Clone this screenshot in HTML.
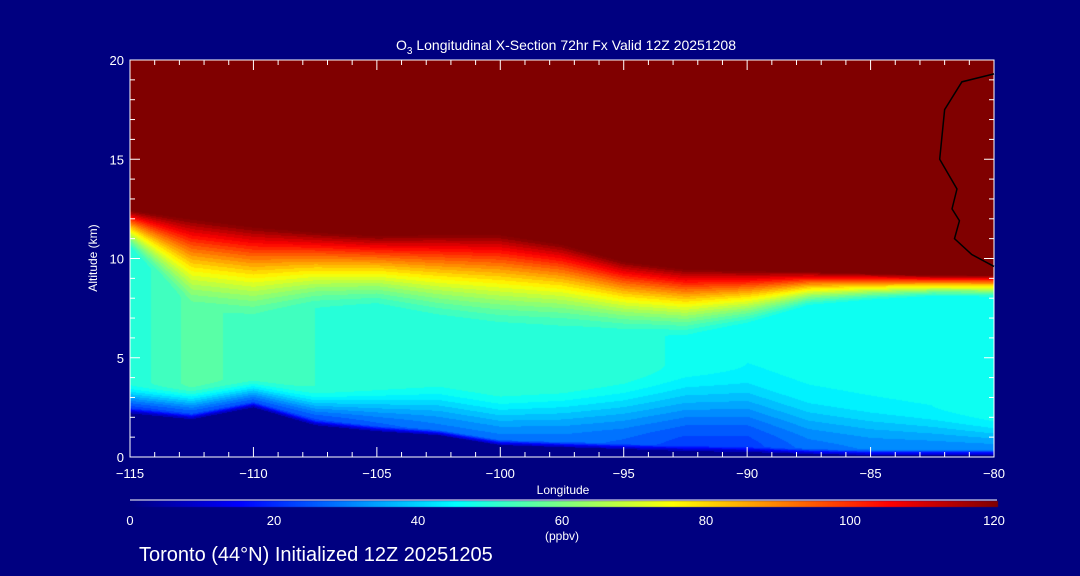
<!DOCTYPE html>
<html><head><meta charset="utf-8"><style>
body{margin:0;background:#000080;width:1080px;height:576px;overflow:hidden;font-family:"Liberation Sans",sans-serif;color:#fff}
#wrap{position:relative;width:1080px;height:576px}
canvas,svg{position:absolute;left:0;top:0}
</style></head><body>
<div id="wrap">
<canvas id="field" width="1080" height="576"></canvas>
<svg id="ov" width="1080" height="576"></svg>
</div>
<script>
// Column data along longitude
const lons      = [-115,-112.5,-110,-107.5,-105,-102.5,-100,-97.5,-95,-92.5,-90,-87.5,-85,-82.5,-80];
const ground    = [2.2, 1.9, 2.5, 1.6, 1.3, 1.1, 0.6, 0.5, 0.4, 0.3, 0.25,0.15,0.1, 0.1, 0.1];
const blDepth   = [1.6, 1.8, 1.6, 2.0, 2.5, 3.0, 3.0, 3.5, 4.0, 4.5, 4.5, 3.5, 3.0, 2.5, 2.0];
const lowVal    = [20,  22,  22,  22,  25,  28,  28,  28,  26,  22,  22,  28,  30,  30,  30];
const midVal    = [49,  55,  53,  51,  50,  50,  50,  51,  50,  47,  45,  45,  45,  45,  46];
const transBase = [10.5,7.5, 7.0, 7.5, 7.6, 7.0, 6.6, 6.6, 6.3, 6.0, 6.5, 7.5, 7.8, 8.0, 8.0];
const tropo     = [12.5,12.2,11.8,11.5,11.3,11.4,11.4,10.9,10.0,9.6, 9.5, 9.4, 9.3, 9.2, 9.2];
// solid 0-contour, upper right
const c0lon = [-80,-81.3,-82,-82.2,-81.5,-81.7,-81.4,-81.6,-80.9,-80];
const c0alt = [19.3,18.9,17.5,15.0,13.5,12.5,11.9,11.0,10.2,9.6];
const xTicks = [-115,-110,-105,-100,-95,-90,-85,-80];
const yTicks = [0,5,10,15,20];
const cbTicks = [0,20,40,60,80,100,120];

const X0=130,X1=994,Y0=457,Y1=60;
const sx=l=>X0+(l+115)/35*(X1-X0);
const sy=a=>Y0-(a/20)*(Y0-Y1);
const lonAt=px=>-115+(px-X0)/(X1-X0)*35;
const altAt=py=>(Y0-py)/(Y0-Y1)*20;
function interp(arr,lon){let f=(lon+115)/2.5;let i=Math.max(0,Math.min(lons.length-2,Math.floor(f)));let t=f-i;return arr[i]*(1-t)+arr[i+1]*t;}
function ss(a,b,z){let t=(z-a)/(b-a);t=Math.max(0,Math.min(1,t));return t*t*(3-2*t);}
function lin(a,b,z){return Math.max(0,Math.min(1,(z-a)/(b-a)));}
function value(lon,z){
  const g=interp(ground,lon);if(z<g)return 0;
  const bl=interp(blDepth,lon),lo=interp(lowVal,lon),mid=interp(midVal,lon),tb=interp(transBase,lon),tp=interp(tropo,lon);
  let v=lo*0.3+(lo*0.7)*ss(g,g+0.3,z)+(mid-lo)*ss(g,g+bl,z);
  v+=(125-mid)*Math.pow(lin(tb,tp,z),1.35);
  return v;
}
function jet(t){const c=x=>Math.round(255*Math.max(0,Math.min(1,1.5-Math.abs(x))));return[c(4*t-3),c(4*t-2),c(4*t-1)];}
const ctx=document.getElementById('field').getContext('2d');
const img=ctx.createImageData(X1-X0,Y0-Y1);
for(let py=Y1;py<Y0;py++){const z=altAt(py+0.5);for(let px=X0;px<X1;px++){
  let v=value(lonAt(px+0.5),z);v=Math.floor(v/3)*3+1.5;v=Math.min(120,v);
  const c=jet(v/120);const k=((py-Y1)*(X1-X0)+(px-X0))*4;
  img.data[k]=c[0];img.data[k+1]=c[1];img.data[k+2]=c[2];img.data[k+3]=255;}}
ctx.putImageData(img,X0,Y1);
for(let px=X0;px<=997;px++){const c=jet((px-X0)/(997-X0));ctx.fillStyle=`rgb(${c[0]},${c[1]},${c[2]})`;ctx.fillRect(px,501,1,6);}

const svg=document.getElementById('ov');const NS='http://www.w3.org/2000/svg';
function mk(tag,at,txt){const e=document.createElementNS(NS,tag);for(const k in at)e.setAttribute(k,at[k]);if(txt!==undefined)e.textContent=txt;svg.appendChild(e);return e;}
let e;
e=mk('rect',{x:X0,y:Y1,width:X1-X0,height:Y0-Y1,fill:'none',stroke:'#fff','stroke-width':1});


e=mk('polyline',{points:c0lon.map((l,i)=>sx(l)+','+sy(c0alt[i])).join(' '),fill:'none',stroke:'#000','stroke-width':1.5});


for(let l=-115;l<=-80;l++){const big=l%5===0;
  e=mk('line',{x1:sx(l),x2:sx(l),y1:Y0,y2:Y0-(big?10:5),stroke:'#fff'});
  
  
  e=mk('line',{x1:sx(l),x2:sx(l),y1:Y1,y2:Y1+(big?10:5),stroke:'#fff'});
  
  }
for(let a=0;a<=20;a++){const big=a%5===0;
  e=mk('line',{x1:X0,x2:X0+(big?10:5),y1:sy(a),y2:sy(a),stroke:'#fff'});
  
  
  e=mk('line',{x1:X1,x2:X1-(big?10:5),y1:sy(a),y2:sy(a),stroke:'#fff'});
  
  }
xTicks.forEach(l=>{e=mk('text',{x:sx(l),y:478,'text-anchor':'middle','font-size':13,fill:'#fff'},l<0?'\u2212'+(-l):l);
  
  });
yTicks.forEach(a=>{e=mk('text',{x:124,y:sy(a)+5,'text-anchor':'end','font-size':13,fill:'#fff'},a);
  
  });
e=mk('text',{x:563,y:494,'text-anchor':'middle','font-size':12,fill:'#fff'},'Longitude');


e=mk('text',{x:97,y:258,'text-anchor':'middle','font-size':12,fill:'#fff',transform:'rotate(-90 97 258)'},'Altitude (km)');


e=mk('line',{x1:X0,x2:997,y1:500,y2:500,stroke:'#fff'});


cbTicks.forEach(v=>{e=mk('text',{x:X0+v/120*(997-X0-3),y:525,'text-anchor':'middle','font-size':13,fill:'#fff'},v);
  
  });
e=mk('text',{x:562,y:540,'text-anchor':'middle','font-size':12,fill:'#fff'},'(ppbv)');


e=mk('text',{x:566,y:50,'text-anchor':'middle','font-size':14,fill:'#fff'});


e.innerHTML='O<tspan font-size="10" dy="4">3</tspan><tspan dy="-4"> Longitudinal X-Section 72hr  Fx Valid 12Z 20251208</tspan>';
e=mk('text',{x:139,y:561,'font-size':20,fill:'#fff'},'Toronto (44°N) Initialized 12Z 20251205');


</script>
</body></html>
